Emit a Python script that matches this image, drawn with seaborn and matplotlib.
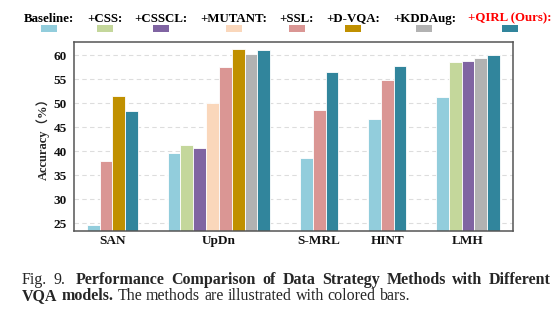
import numpy as np
import pandas as pd
import seaborn as sns
import matplotlib
matplotlib.use("Agg")
import matplotlib.pyplot as plt
from matplotlib.patches import Rectangle

# ---- data -------------------------------------------------------------
models = ["SAN", "UpDn", "S-MRL", "HINT", "LMH"]
methods = ["Baseline", "+CSS", "+CSSCL", "+MUTANT", "+SSL",
           "+D-VQA", "+KDDAug", "+QIRL (Ours)"]
nan = np.nan
baseline = [24.7, 39.7, 38.5, 46.7, 51.4]
css      = [nan, 41.3, nan, nan, 58.6]
csscl    = [nan, 40.6, nan, nan, 58.9]
mutant   = [nan, 50.1, nan, nan, nan]
ssl      = [37.9, 57.6, 48.7, 54.9, nan]
dvqa     = [51.6, 61.2, nan, nan, nan]
kddaug   = [nan, 60.3, nan, nan, 59.4]
qirl     = [48.3, 61.0, 56.5, 57.8, 60.1]
colors = ["#92CDDC", "#C4D79B", "#8064A2", "#FAD7BB",
          "#DA9694", "#C09000", "#B2B2B2", "#31859C"]
yticks = [25, 30, 35, 40, 45, 50, 55, 60]

caption_head = "Fig. 9."
caption_bold = ("Performance Comparison of Data Strategy Methods with "
                "Different VQA models.")
caption_rest = "The methods are illustrated with colored bars."

series = [baseline, css, csscl, mutant, ssl, dvqa, kddaug, qirl]

# ---- long-form table, bars packed side by side inside each model ------
GROUP_GAP = 2.3
rows, centers = [], []
pos = 0.0
for mi, model in enumerate(models):
    start = pos
    for meth, vals in zip(methods, series):
        v = vals[mi]
        if not np.isnan(v):
            rows.append({"model": model, "method": meth, "pos": pos, "acc": v})
            pos += 1.0
    centers.append((start + pos - 1.0) / 2.0)
    pos += GROUP_GAP
df = pd.DataFrame(rows)

# ---- figure -----------------------------------------------------------
sns.set_style("white")
serif = ["Liberation Serif", "Noto Sans CJK SC", "DejaVu Serif"]
plt.rcParams["font.family"] = serif

fig = plt.figure(figsize=(5.6, 3.24), dpi=100)
ax = fig.add_axes([0.132, 0.287, 0.784, 0.584])

sns.barplot(data=df, x="pos", y="acc", hue="method", hue_order=methods,
            palette=colors, saturation=1, native_scale=True, dodge=False,
            width=1.0, errorbar=None, edgecolor="white", linewidth=0.6,
            legend=False, ax=ax)

ax.set_xlim(df["pos"].min() - 1.5, df["pos"].max() + 1.5)
ax.set_ylim(23.4, 62.8)
ax.set_yticks(yticks)
ax.set_xticks(centers)
ax.set_xticklabels(models)
for lab in ax.get_xticklabels() + ax.get_yticklabels():
    lab.set_fontweight("bold")
    lab.set_fontsize(9.5)
    lab.set_color("#111111")
ax.tick_params(axis="x", length=0, pad=3)
ax.tick_params(axis="y", length=3, width=0.8, color="#555555", pad=2)
ax.set_xlabel("")
ax.set_ylabel("Accuracy（%）", fontweight="bold", fontsize=9,
              family=serif, labelpad=3)

ax.set_axisbelow(True)
ax.yaxis.grid(True, linestyle=(0, (4, 3)), color="#dddddd", linewidth=0.8)
ax.xaxis.grid(False)
for sp in ax.spines.values():
    sp.set_visible(True)
    sp.set_color("#555555")
    sp.set_linewidth(1.1)

W, H = fig.canvas.get_width_height()
renderer = fig.canvas.get_renderer()

# ---- legend: label text above a colour swatch -------------------------
leg_texts = []
for meth in methods:
    tcol = "#FF0000" if "Ours" in meth else "black"
    t = fig.text(0, 0.9336, meth + ":", fontsize=9.3, fontweight="bold",
                 family="Liberation Serif", color=tcol, va="baseline",
                 ha="left")
    leg_texts.append(t)
widths = [t.get_window_extent(renderer).width for t in leg_texts]
sep_px = 12.5
total = sum(widths) + sep_px * (len(widths) - 1)
x_px = 288 - total / 2
sw_w, sw_h = 16 / W, 7 / H
for t, w, col in zip(leg_texts, widths, colors):
    t.set_x(x_px / W)
    cx = (x_px + w / 2) / W
    fig.add_artist(Rectangle((cx - sw_w / 2, 0.901), sw_w, sw_h,
                             transform=fig.transFigure, facecolor=col,
                             edgecolor="none"))
    x_px += w + sep_px

# ---- caption: two lines, the first one justified ----------------------
cap_size = 11.5
cap_left, cap_right = 22, 551
words = ([(w, "normal") for w in caption_head.split()] +
         [(w, "bold") for w in caption_bold.split()] +
         [(w, "normal") for w in caption_rest.split()])
n_head = len(caption_head.split())
n_first = n_head + caption_bold.split().index("Different") + 1
line1, line2 = words[:n_first], words[n_first:]


def text_width(s):
    t = fig.text(0, 0, s, fontsize=cap_size, family="Liberation Serif")
    w = t.get_window_extent(renderer).width
    t.remove()
    return w


space = text_width("a a") - text_width("aa")


def place_words(line, y_base, justify, extra_at=None):
    arts = [fig.text(0, y_base, w, fontsize=cap_size, fontweight=wt,
                     family="Liberation Serif", va="baseline", ha="left")
            for w, wt in line]
    ws = [a.get_window_extent(renderer).width for a in arts]
    extra = [0.0] * len(arts)
    if extra_at is not None:
        extra[extra_at] = space  # wider gap after the figure number
    if justify:
        gap = (cap_right - cap_left - sum(ws) - sum(extra)) / (len(arts) - 1)
    else:
        gap = space
    x = cap_left
    for i, (a, w) in enumerate(zip(arts, ws)):
        x += extra[i]
        a.set_x(x / W)
        x += w + gap


place_words(line1, 1 - 284.5 / 324, True, extra_at=n_head)
place_words(line2, 1 - 300 / 324, False)

fig.savefig("out.png", dpi=100)
